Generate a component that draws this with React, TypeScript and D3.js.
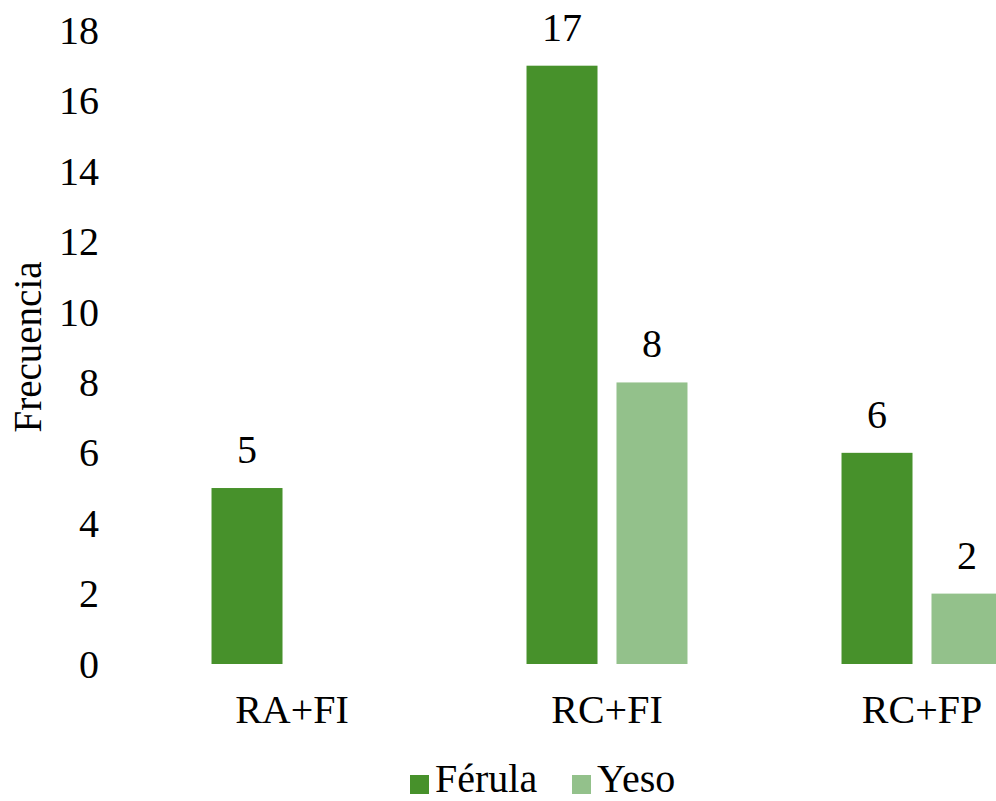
import React from "react";
import * as d3 from "d3";

const categories = ["RA+FI", "RC+FI", "RC+FP"];
const seriesNames = ["Férula", "Yeso"];
const feruValues = [5, 17, 6];
const yesoValues = [null, 8, 2];
const yTicks = [0, 2, 4, 6, 8, 10, 12, 14, 16, 18];
const seriesColors = ["#47912B", "#93C18B"];

const W = 996;
const H = 801;
const FONT =
  '"Liberation Serif", "Times New Roman", Times, "Nimbus Roman", "Nimbus Roman No9 L", "Noto Serif", "DejaVu Serif", FreeSerif, Tinos, serif';
const txt = { fontFamily: FONT };

export default function App() {
  const y = d3.scaleLinear().domain([0, 18]).range([664, 30.5]);
  const x0 = d3
    .scaleBand<string>()
    .domain(categories)
    .range([134.5, 1079.5])
    .paddingInner(0.489)
    .paddingOuter(0.2445);
  const x1 = d3
    .scaleBand<string>()
    .domain(seriesNames)
    .range([0, x0.bandwidth()])
    .paddingInner(0.211)
    .paddingOuter(0);

  const seriesData = [feruValues, yesoValues];

  return (
    <svg
      width={W}
      height={H}
      style={{ position: "absolute", left: 0, top: 0, background: "#fff", fontFamily: FONT }}
    >
      <rect x={0} y={0} width={W} height={H} fill="#fff" />
      {yTicks.map((t) => (
        <text
          key={t}
          x={99}
          y={y(t)}
          dy="0.34em"
          textAnchor="end"
          fontSize={40}
          fill="#000"
          style={txt}
        >
          {t}
        </text>
      ))}
      <text
        transform={`translate(41,347) rotate(-90)`}
        textAnchor="middle"
        fontSize={39}
        fill="#000"
        style={txt}
      >
        Frecuencia
      </text>
      {categories.map((c, ci) => (
        <g key={c} transform={`translate(${x0(c)},0)`}>
          {seriesNames.map((s, si) => {
            const v = seriesData[si][ci];
            if (v === null || v === undefined) return null;
            const bx = x1(s)!;
            return (
              <g key={s}>
                <rect
                  x={bx}
                  y={y(v)}
                  width={x1.bandwidth()}
                  height={y(0) - y(v)}
                  fill={seriesColors[si]}
                />
                <text
                  x={bx + x1.bandwidth() / 2}
                  y={y(v) - 25}
                  textAnchor="middle"
                  fontSize={40}
                  fill="#000"
                  style={txt}
                >
                  {v}
                </text>
              </g>
            );
          })}
        </g>
      ))}
      {categories.map((c) => (
        <text
          key={c}
          x={x0(c)! + x0.bandwidth() / 2}
          y={723}
          textAnchor="middle"
          fontSize={40}
          fill="#000"
          style={txt}
        >
          {c}
        </text>
      ))}
      <g>
        <rect x={410} y={775} width={19} height={19} fill={seriesColors[0]} />
        <text x={435} y={792} fontSize={40} fill="#000" style={txt}>
          {seriesNames[0]}
        </text>
        <rect x={572} y={775} width={19} height={19} fill={seriesColors[1]} />
        <text x={597} y={792} fontSize={40} fill="#000" style={txt}>
          {seriesNames[1]}
        </text>
      </g>
    </svg>
  );
}
